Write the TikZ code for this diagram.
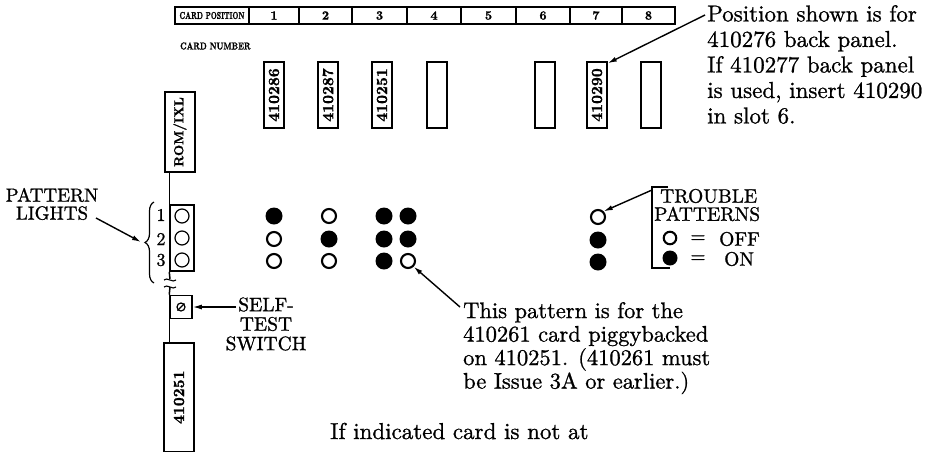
\documentclass[tikz,border=0pt]{standalone}
\usepackage{fontspec}
\usepackage{graphicx}
\setmainfont{lmroman10-regular.otf}[RawFeature={embolden=1.0}]
\newfontfamily\bfam{lmroman10-bold.otf}[RawFeature={embolden=1.4}]
\usetikzlibrary{arrows.meta,decorations.pathreplacing,calc}
\begin{document}
\begin{tikzpicture}[x=1pt,y=-1pt,
  box/.style={draw,line width=1.5pt,inner sep=0pt},
  cell/.style={box,minimum height=17pt,font=\bfam\fontsize{12.5}{12.5}\selectfont},
  cardbox/.style={box,minimum width=20pt,minimum height=66pt,font=\bfam\fontsize{15.5}{15.5}\selectfont},
  onlamp/.style={circle,fill=black,minimum size=17pt,inner sep=0pt},
  offlamp/.style={circle,draw,line width=2.1pt,minimum size=14pt,inner sep=0pt},
  bulb/.style={circle,draw,line width=1.2pt,minimum size=14pt,inner sep=0pt},
  arr/.style={-{Latex[length=9pt,width=5pt]},line width=1.4pt},
  lbl/.style={inner sep=0pt,font=\fontsize{19.5}{19.5}\selectfont},
  note/.style={inner sep=0pt,align=left,anchor=north west},
]
\useasboundingbox (0,0) rectangle (928,453);
\fill[white] (0,0) rectangle (928,453);

% top bar
\node[cell,minimum width=74pt,font=\bfam\fontsize{10}{10}\selectfont] (cp) at (212,15.5) {\scalebox{0.68}[1]{CARD POSITION}};
\node[cell,minimum width=50pt] (p1) at (274,15.5) {1};
\node[cell,minimum width=53pt] (p2) at (325.5,15.5) {2};
\node[cell,minimum width=55pt] (p3) at (379.5,15.5) {3};
\node[cell,minimum width=54pt] (p4) at (434,15.5) {4};
\node[cell,minimum width=55pt] (p5) at (488.5,15.5) {5};
\node[cell,minimum width=54pt] (p6) at (543,15.5) {6};
\node[cell,minimum width=52pt] (p7) at (596,15.5) {7};
\node[cell,minimum width=53pt] (p8) at (648.5,15.5) {8};

\node[inner sep=0pt,anchor=west,font=\bfam\fontsize{10}{10}\selectfont] (cn) at (180,46) {\scalebox{0.77}[1]{CARD NUMBER}};

% cards
\node[cardbox] (c1) at (274,95) {\rotatebox{90}{410286}};
\node[cardbox] (c2) at (328,95) {\rotatebox{90}{410287}};
\node[cardbox] (c3) at (382,95) {\rotatebox{90}{410251}};
\node[cardbox] (c4) at (437,95) {};
\node[cardbox] (c6) at (545,95) {};
\node[cardbox] (c7) at (597,95) {\rotatebox{90}{410290}};
\node[cardbox] (c8) at (651,95) {};

\node[note,font=\fontsize{23}{25.5}\selectfont] (pos) at (707,5)
  {Position shown is for\\410276 back panel.\\If 410277 back panel\\is used, insert 410290\\in slot 6.};
\coordinate (posa) at (705,15);
\draw[arr] (posa) -- ([yshift=-2pt]c7.north east);

% left column
\node[box,minimum width=30pt,minimum height=80pt,font=\bfam\fontsize{13}{13}\selectfont] (rom) at (180,132) {\rotatebox{90}{ROM/IXL}};
\node[box,minimum width=24pt,minimum height=66pt] (lights) at (182,238) {};
\node[bulb] (b1) at (182,216) {};
\node[bulb] (b2) at (182,238) {};
\node[bulb] (b3) at (182,260) {};
\node[lbl,font=\fontsize{18}{18}\selectfont] (n1) at (161,215) {1};
\node[lbl,font=\fontsize{18}{18}\selectfont] (n2) at (161,239) {2};
\node[lbl,font=\fontsize{18}{18}\selectfont] (n3) at (161,260) {3};

\draw[line width=1.5pt] (rom.south -| lights.west) -- (lights.north west);
\coordinate (brk1) at (170,279);
\coordinate (brk2) at (170,287);
\draw[line width=1.5pt] (lights.south west) -- (brk1);
\draw[line width=1.1pt] (164,280) .. controls (167,276.5) and (173,283.5) .. (176,280);
\draw[line width=1.1pt] (164,287) .. controls (167,283.5) and (173,290.5) .. (176,287);

\node[box,minimum width=22pt,minimum height=23pt] (sw) at (181,307) {};
\draw[line width=1.2pt] (sw.center) circle (4pt);
\draw[line width=1.2pt] ($(sw.center)+(-3.5,3.5)$) -- ($(sw.center)+(3.5,-3.5)$);
\draw[line width=1.5pt] (brk2) -- (sw.north west);

\node[box,minimum width=30pt,minimum height=108.5pt,font=\bfam\fontsize{15.5}{15.5}\selectfont] (low) at (179,397.25) {\rotatebox{90}{410251}};
\draw[line width=1.5pt] (sw.south west) -- (sw.south west |- low.north);

% pattern lights label
\node[lbl,align=center,font=\fontsize{19}{18}\selectfont] (pl) at (52,204) {PATTERN\\LIGHTS};
\draw[line width=1.2pt,decorate,decoration={brace,amplitude=9pt}] (154,283) -- (154,202);
\coordinate (brtip) at (141,242);
\draw[arr] (96,218) -- (brtip);

% self-test switch
\node[lbl,align=center,font=\fontsize{19.5}{19.5}\selectfont] (st) at (266,324) {SELF-\\TEST\\SWITCH};
\coordinate (sta) at (236,307);
\draw[arr] (sta) -- (sw.east);

% patterns
\node[onlamp] (d11) at (274,216) {};
\node[offlamp] (d12) at (274,239) {};
\node[offlamp] (d13) at (274,261) {};
\node[offlamp] (d21) at (329,216) {};
\node[onlamp] (d22) at (329,239) {};
\node[offlamp] (d23) at (329,261) {};
\node[onlamp] (d31) at (384,216) {};
\node[onlamp] (d32) at (384,239) {};
\node[onlamp] (d33) at (384,261) {};
\node[onlamp] (d41) at (408,216) {};
\node[onlamp] (d42) at (408,239) {};
\node[offlamp] (d43) at (408,261) {};
\node[offlamp] (d71) at (598,217) {};
\node[onlamp] (d72) at (598,240) {};
\node[onlamp] (d73) at (598,262) {};

% trouble patterns
\draw[line width=1.5pt] (668,187) -- (652,187) -- (652,268) -- (670,268);
\node[lbl,anchor=west] (tp1) at (660,196) {TROUBLE};
\node[lbl,anchor=west] (tp2) at (654,214) {PATTERNS};
\coordinate (tpa) at (652,190);
\draw[arr] (tpa) -- (d71.north east);
\node[offlamp,minimum size=12.5pt] (loff) at (670,238) {};
\node[lbl] (eq1) at (698,239) {=};
\node[lbl,anchor=west] (off) at (719,239) {OFF};
\node[onlamp,minimum size=15pt] (lon) at (670,258) {};
\node[lbl] (eq2) at (698,259) {=};
\node[lbl,anchor=west] (on) at (724,259) {ON};

% piggyback note
\node[note,font=\fontsize{22.5}{23.5}\selectfont] (pig) at (463,302)
  {This pattern is for the\\410261 card piggybacked\\on 410251. (410261 must\\be Issue 3A or earlier.)};
\coordinate (piga) at (460,307);
\draw[arr] (piga) -- (d43.south east);

\node[inner sep=0pt,anchor=base west,font=\fontsize{23}{23}\selectfont] (ifn) at (330,439) {If indicated card is not at};
\end{tikzpicture}
\end{document}
